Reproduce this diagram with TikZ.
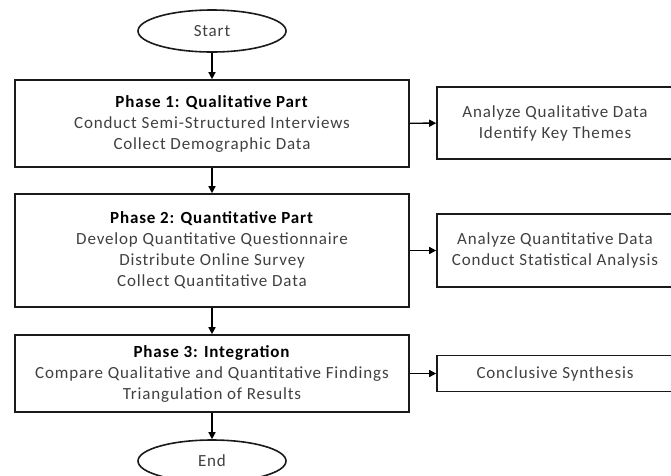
\documentclass[tikz,border=0pt]{standalone}
\usepackage{fontspec}
\setmainfont{Carlito}[LetterSpace=5]
\usetikzlibrary{arrows.meta,shapes.geometric}
\definecolor{txtgray}{HTML}{404040}
\definecolor{edge}{HTML}{1A1A1A}
\begin{document}
\begin{tikzpicture}[x=1pt,y=-1pt,
  every node/.style={font=\fontsize{17}{21}\selectfont, text=txtgray, align=center, inner sep=0pt},
  phasebox/.style={draw=edge, line width=1.6pt, rectangle, minimum width=394pt},
  sidebox/.style={draw=edge, line width=1.6pt, rectangle, minimum width=236pt},
  terminal/.style={draw=edge, line width=1.6pt, ellipse, minimum width=148pt, minimum height=42pt},
  flow/.style={draw=black, line width=1.4pt, -{Triangle[length=7pt,width=7pt]}}
]
\useasboundingbox (0,0) rectangle (671,475);

% terminals
\node[terminal] (start) at (212,31) {Start};
\node[terminal] (end) at (212,461) {End};

% phase boxes
\node[phasebox, minimum height=87pt] (p1) at (212,123.5)
  {\textcolor{black}{\textbf{Phase 1: Qualitative Part}}\\
   Conduct Semi-Structured Interviews\\
   Collect Demographic Data};
\node[phasebox, minimum height=113pt] (p2) at (212,250.5)
  {\textcolor{black}{\textbf{Phase 2: Quantitative Part}}\\
   Develop Quantitative Questionnaire\\
   Distribute Online Survey\\
   Collect Quantitative Data};
\node[phasebox, minimum height=77pt] (p3) at (212,373.5)
  {\textcolor{black}{\textbf{Phase 3: Integration}}\\
   Compare Qualitative and Quantitative Findings\\
   Triangulation of Results};

% side boxes
\node[sidebox, minimum height=72pt] (s1) at (555,123)
  {Analyze Qualitative Data\\ Identify Key Themes};
\node[sidebox, minimum height=73pt] (s2) at (555,250.5)
  {Analyze Quantitative Data\\ Conduct Statistical Analysis};
\node[sidebox, minimum height=36pt] (s3) at (555,373.5)
  {Conclusive Synthesis};

% connectors
\draw[flow] (start) -- (p1);
\draw[flow] (p1) -- (p2);
\draw[flow] (p2) -- (p3);
\draw[flow] (p3) -- (end);
\draw[flow] (p1) -- (s1);
\draw[flow] (p2) -- (s2);
\draw[flow] (p3) -- (s3);
\end{tikzpicture}
\end{document}
